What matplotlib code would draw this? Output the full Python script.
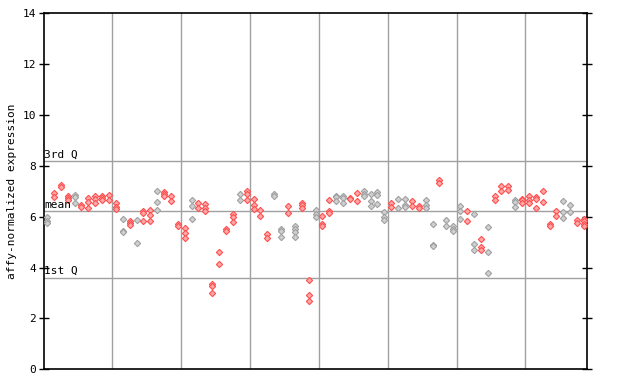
import matplotlib
matplotlib.use("Agg")
import matplotlib.pyplot as plt

# expression values per sample column
values = [
    [6.0, 5.85, 5.75], [6.94, 6.77], [7.25, 7.15], [6.8, 6.72, 6.65], [6.87, 6.77, 6.55],
    [6.47, 6.38], [6.74, 6.57, 6.35], [6.83, 6.70, 6.55], [6.82, 6.75, 6.67], [6.87, 6.67],
    [6.55, 6.38, 6.29], [5.92, 5.44, 5.38], [5.85, 5.76, 5.67], [5.89, 4.98], [6.22, 6.14, 5.82],
    [6.27, 6.05, 5.82], [7.02, 6.59, 6.27], [6.98, 6.90, 6.80], [6.81, 6.61], [5.70, 5.62],
    [5.54, 5.36, 5.18], [6.67, 6.44, 5.92], [6.53, 6.35], [6.51, 6.35, 6.22], [3.37, 3.27, 3.02],
    [4.61, 4.16], [5.53, 5.45], [6.09, 5.99, 5.80], [6.89, 6.67], [7.00, 6.90, 6.64],
    [6.70, 6.48, 6.31], [6.25, 6.02], [5.33, 5.15], [6.90, 6.83], [5.53, 5.45, 5.22],
    [6.42, 6.16], [5.62, 5.51, 5.41, 5.22], [6.55, 6.45, 6.35], [3.53, 2.94, 2.67], [6.27, 6.12, 5.99],
    [6.01, 5.73, 5.63], [6.64, 6.22, 6.14], [6.83, 6.76, 6.60], [6.83, 6.73, 6.55], [6.75, 6.70],
    [6.94, 6.61], [7.00, 6.90, 6.81], [6.90, 6.61, 6.42], [6.97, 6.87, 6.51], [6.17, 5.99, 5.88],
    [6.53, 6.38], [6.68, 6.35], [6.68, 6.48, 6.38], [6.61, 6.44], [6.44, 6.35],
    [6.67, 6.48, 6.35], [5.70, 4.90, 4.84], [7.45, 7.32], [5.89, 5.62], [5.62, 5.53, 5.44],
    [6.44, 6.22, 5.92], [6.22, 5.83], [6.09, 4.94, 4.71], [5.14, 4.81, 4.71], [5.61, 4.63, 3.80],
    [6.80, 6.64], [7.19, 7.00], [7.19, 7.06], [6.67, 6.57, 6.40], [6.70, 6.64, 6.55],
    [6.80, 6.67, 6.53], [6.77, 6.68, 6.35], [7.03, 6.57], [5.70, 5.62], [6.22, 6.02],
    [6.61, 6.19, 5.96], [6.48, 6.18], [5.89, 5.76], [5.92, 5.83, 5.73, 5.63],
]
# 1 = gray column, 0 = red column
gray_cols = [
    1, 0, 0, 0, 1, 0, 0, 0, 0, 0,
    0, 1, 0, 1, 0, 0, 1, 0, 0, 0,
    0, 1, 0, 0, 0, 0, 0, 0, 1, 0,
    0, 0, 0, 1, 1, 0, 1, 0, 0, 1,
    0, 0, 1, 1, 0, 0, 1, 1, 1, 1,
    0, 1, 1, 0, 0, 1, 1, 0, 1, 1,
    1, 0, 1, 0, 1, 0, 0, 0, 1, 0,
    0, 0, 0, 0, 0, 1, 1, 0, 0,
]
group_bounds = [9.5, 19.5, 29.5, 39.5, 49.5, 59.5, 69.5]
q3, mean, q1 = 8.2, 6.21, 3.61

RED = "#ff5050"
GRAY = "#a0a0a0"

fig = plt.figure(figsize=(6.4, 3.84), dpi=100)
ax = fig.add_axes([44 / 640, 1 - 369.3 / 384, (587.3 - 44) / 640, (369.3 - 13.3) / 384])

for x in group_bounds:
    ax.axvline(x, color=GRAY, linewidth=1, zorder=1)
for y in (q3, mean, q1):
    ax.axhline(y, color=GRAY, linewidth=1, zorder=1)

for i, (vals, g) in enumerate(zip(values, gray_cols)):
    c = GRAY if g else RED
    face = "#d0d0d0" if g else "#ffa8a8"
    ax.plot([i] * len(vals), vals, linestyle="none", marker="D", markersize=3.2,
            markerfacecolor=face, markeredgecolor=c, markeredgewidth=0.8, zorder=3)

mono = "DejaVu Sans Mono"
for y, lab in ((q3, "3rd Q"), (mean, "mean"), (q1, "1st Q")):
    ax.text(-0.4, y + 0.05, lab, fontsize=8, family=mono, ha="left", va="bottom", zorder=4)

ax.set_xlim(-0.44, 78.48)
ax.set_ylim(0, 14)
ax.set_yticks(range(0, 15, 2))
ax.set_yticklabels([str(v) for v in range(0, 15, 2)], family=mono, fontsize=8)
ax.set_xticks([])
ax.tick_params(axis="y", direction="inout", length=7, width=1, left=True, right=True, pad=2)
for s in ax.spines.values():
    s.set_linewidth(1.2)
ax.set_ylabel("affy-normalized expression", family=mono, fontsize=8, labelpad=4)

fig.savefig("out.png", dpi=100)
